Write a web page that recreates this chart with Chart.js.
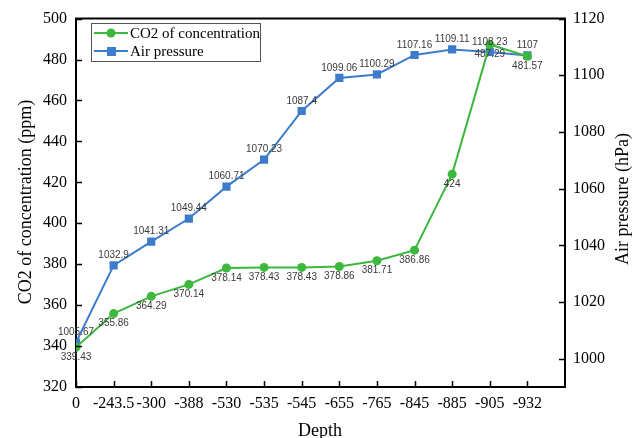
<!DOCTYPE html>
<html>
<head>
<meta charset="utf-8">
<script src="https://cdn.jsdelivr.net/npm/chart.js@4.4.1/dist/chart.umd.min.js"></script>
<style>
  html, body { margin: 0; padding: 0; background: #fff; }
  #wrap { width: 634px; height: 438px; }
</style>
</head>
<body>
<div id="wrap"><canvas id="c" width="634" height="438"></canvas></div>
<script>
// Depth categories along the bottom axis
const depthLabels = ['0', '-243.5', '-300', '-388', '-530', '-535', '-545', '-655', '-765', '-845', '-885', '-905', '-932'];
// CO2 concentration (ppm), left axis
const co2Values = [339.43, 355.86, 364.29, 370.14, 378.14, 378.43, 378.43, 378.86, 381.71, 386.86, 424, 487.29, 481.57];
// Air pressure (hPa), right axis
const pressureValues = [1005.67, 1032.9, 1041.31, 1049.44, 1060.71, 1070.23, 1087.4, 1099.06, 1100.29, 1107.16, 1109.11, 1108.23, 1107];
// Axis ranges
const co2Range = [320, 500, 20];
const pressureRange = [990, 1120, 20];
// Series names
const seriesNames = ['CO2 of concentration', 'Air pressure'];
const axisTitles = { x: 'Depth', y: 'CO2 of concentration (ppm)', y1: 'Air pressure (hPa)' };

const GREEN = '#3cb83c';
const BLUE = '#3d7ccc';
const SERIF = '"Liberation Serif", "Times New Roman", serif';
const SANS = '"Liberation Sans", Arial, sans-serif';

const toPoints = vals => vals.map((v, i) => ({ x: i, y: v }));

// Frame, inward tick marks, point labels, axis titles and boxed legend
const decorations = {
  id: 'decorations',
  afterDatasetsDraw(chart) {
    const ctx = chart.ctx;
    const a = chart.chartArea;
    ctx.save();
    // top edge of the frame
    ctx.strokeStyle = '#000';
    ctx.lineWidth = 2;
    ctx.beginPath();
    ctx.moveTo(a.left - 1, a.top);
    ctx.lineTo(a.right + 1, a.top);
    ctx.stroke();

    // inward tick marks
    const len = 6;
    ctx.lineWidth = 1.5;
    const sx = chart.scales.x, sy = chart.scales.y, sy1 = chart.scales.y1;
    ctx.beginPath();
    sx.ticks.forEach(t => {
      const px = Math.round(sx.getPixelForValue(t.value)) + 0.5;
      ctx.moveTo(px, a.bottom);
      ctx.lineTo(px, a.bottom - len);
    });
    sy.ticks.forEach(t => {
      const py = Math.round(sy.getPixelForValue(t.value)) + 0.5;
      ctx.moveTo(a.left, py);
      ctx.lineTo(a.left + len, py);
    });
    sy1.ticks.forEach(t => {
      const py = Math.round(sy1.getPixelForValue(t.value)) + 0.5;
      ctx.moveTo(a.right, py);
      ctx.lineTo(a.right - len, py);
    });
    ctx.stroke();

    // value labels: pressure above its points, CO2 below
    ctx.font = '10px ' + SANS;
    ctx.fillStyle = '#3a3a3a';
    ctx.textAlign = 'center';
    ctx.textBaseline = 'middle';
    chart.data.datasets.forEach((ds, di) => {
      const meta = chart.getDatasetMeta(di);
      const dy = ds.yAxisID === 'y1' ? -10 : 10;
      meta.data.forEach((pt, i) => {
        ctx.fillText(String(ds.data[i].y), pt.x, pt.y + dy);
      });
    });

    // axis titles
    ctx.fillStyle = '#000';
    ctx.font = '18px ' + SERIF;
    ctx.textAlign = 'center';
    ctx.textBaseline = 'middle';
    ctx.fillText(axisTitles.x, 320, 431);
    ctx.save();
    ctx.translate(26, 202);
    ctx.rotate(-Math.PI / 2);
    ctx.fillText(axisTitles.y, 0, 0);
    ctx.restore();
    ctx.save();
    ctx.translate(623, 199);
    ctx.rotate(-Math.PI / 2);
    ctx.fillText(axisTitles.y1, 0, 0);
    ctx.restore();

    // legend box
    const lx = 91, ly = 23, lw = 169, lh = 38;
    ctx.fillStyle = '#fff';
    ctx.fillRect(lx, ly, lw, lh);
    ctx.strokeStyle = '#555';
    ctx.lineWidth = 1;
    ctx.strokeRect(lx + 0.5, ly + 0.5, lw, lh);
    ctx.font = '15px ' + SERIF;
    ctx.textAlign = 'left';
    chart.data.datasets.forEach((ds, di) => {
      const cy = ly + 10 + di * 18;
      ctx.strokeStyle = ds.borderColor;
      ctx.lineWidth = 2;
      ctx.beginPath();
      ctx.moveTo(lx + 3, cy);
      ctx.lineTo(lx + 37, cy);
      ctx.stroke();
      ctx.fillStyle = ds.borderColor;
      if (ds.pointStyle === 'rect') {
        ctx.fillRect(lx + 16, cy - 4, 9, 9);
      } else {
        ctx.beginPath();
        ctx.arc(lx + 20, cy, 4.5, 0, Math.PI * 2);
        ctx.fill();
      }
      ctx.fillStyle = '#000';
      ctx.fillText(ds.label, lx + 39, cy + 1);
    });
    ctx.restore();
  }
};

new Chart(document.getElementById('c'), {
  type: 'line',
  data: {
    datasets: [
      {
        label: seriesNames[0],
        data: toPoints(co2Values),
        yAxisID: 'y',
        borderColor: GREEN,
        backgroundColor: GREEN,
        borderWidth: 2,
        pointStyle: 'circle',
        pointRadius: 4.5,
        pointBorderWidth: 0,
        pointBackgroundColor: GREEN,
        tension: 0
      },
      {
        label: seriesNames[1],
        data: toPoints(pressureValues),
        yAxisID: 'y1',
        borderColor: BLUE,
        backgroundColor: BLUE,
        borderWidth: 2,
        pointStyle: 'rect',
        pointRadius: 5.8,
        pointBorderWidth: 0,
        pointBackgroundColor: BLUE,
        tension: 0
      }
    ]
  },
  options: {
    responsive: false,
    animation: false,
    layout: { padding: { top: 18, left: 0, right: 0, bottom: 0 } },
    plugins: {
      legend: { display: false },
      tooltip: { enabled: false }
    },
    scales: {
      x: {
        type: 'linear',
        position: 'bottom',
        min: 0,
        max: depthLabels.length,
        afterBuildTicks: s => { s.ticks = s.ticks.filter(t => t.value < depthLabels.length); },
        afterFit: s => { s.height = 51; },
        ticks: {
          stepSize: 1,
          autoSkip: false,
          maxRotation: 0,
          padding: 7,
          color: '#000',
          font: { family: SERIF, size: 16 },
          callback: v => depthLabels[v] ?? ''
        },
        grid: { display: true, drawOnChartArea: false, drawTicks: false },
        border: { display: true, color: '#000', width: 2 }
      },
      y: {
        position: 'left',
        min: co2Range[0],
        max: co2Range[1],
        afterFit: s => { s.width = 76; },
        ticks: {
          stepSize: co2Range[2],
          padding: 9,
          color: '#000',
          font: { family: SERIF, size: 16 },
          callback: v => String(v)
        },
        grid: { display: true, drawOnChartArea: false, drawTicks: false },
        border: { display: true, color: '#000', width: 2 }
      },
      y1: {
        position: 'right',
        min: pressureRange[0],
        max: pressureRange[1],
        afterBuildTicks: s => { s.ticks = s.ticks.filter(t => t.value % 20 === 0); },
        afterFit: s => { s.width = 69; },
        ticks: {
          stepSize: pressureRange[2],
          padding: 8,
          color: '#000',
          font: { family: SERIF, size: 16 },
          callback: v => String(v)
        },
        grid: { display: true, drawOnChartArea: false, drawTicks: false },
        border: { display: true, color: '#000', width: 2 }
      }
    }
  },
  plugins: [decorations]
});
</script>
</body>
</html>
